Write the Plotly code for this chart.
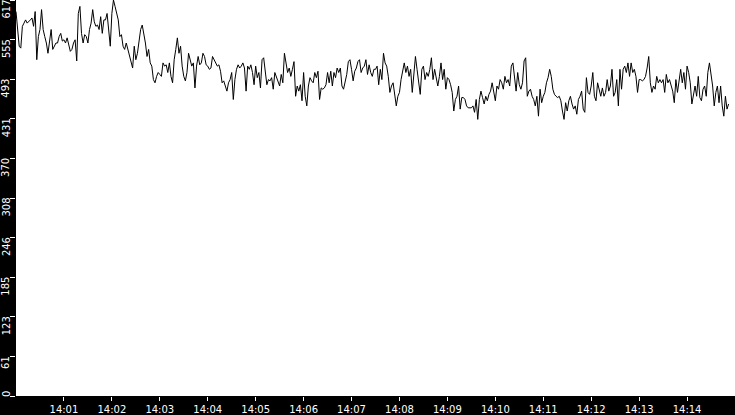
import plotly.graph_objects as go
import pandas as pd

# samples every 2 seconds starting 14:00:00
start_time = "2024-01-01 14:00:00"
sample_seconds = 2

values = [
    # 14:00:00 - 14:02:30
    599, 565, 545, 542, 576, 581, 586, 581, 583, 586, 589, 576, 599, 524, 560,
    571, 602, 571, 560, 550, 534, 555, 571, 540, 545, 550, 550, 560, 565, 553,
    555, 550, 558, 547, 537, 540, 550, 555, 522, 596, 607, 565, 550, 563, 560,
    550, 571, 581, 602, 583, 576, 578, 571, 591, 565, 586, 586, 596, 565, 545,
    596, 617, 607, 596, 586, 560, 563, 545, 540, 550, 540, 529, 519, 511, 545,
    # 14:02:30 - 14:05:00
    524, 534, 555, 571, 578, 565, 550, 529, 540, 519, 514, 493, 488, 498, 504,
    501, 498, 519, 514, 516, 504, 519, 498, 488, 524, 540, 558, 534, 545, 514,
    498, 491, 504, 534, 524, 514, 519, 480, 514, 529, 516, 519, 534, 529, 516,
    514, 509, 511, 529, 524, 519, 514, 516, 506, 488, 491, 483, 475, 488, 493,
    504, 462, 493, 509, 516, 511, 514, 519, 511, 475, 514, 509, 516, 504, 485,
    # 14:05:00 - 14:07:30
    514, 496, 504, 480, 524, 527, 509, 485, 493, 491, 496, 478, 504, 496, 488,
    483, 501, 488, 534, 519, 504, 511, 498, 509, 521, 467, 483, 475, 485, 460,
    504, 467, 452, 483, 496, 491, 488, 504, 496, 506, 462, 480, 478, 480, 485,
    504, 488, 506, 483, 504, 496, 511, 504, 511, 483, 478, 488, 501, 521, 524,
    509, 491, 506, 511, 521, 524, 504, 511, 514, 524, 501, 516, 504, 498, 509,
    # 14:07:30 - 14:10:00
    509, 514, 485, 509, 493, 534, 519, 514, 498, 473, 483, 488, 467, 452, 467,
    473, 493, 504, 519, 504, 514, 498, 509, 473, 504, 529, 509, 488, 470, 509,
    514, 493, 504, 498, 509, 527, 493, 509, 498, 483, 498, 519, 493, 509, 478,
    496, 493, 485, 473, 444, 462, 467, 483, 447, 465, 465, 462, 452, 449, 449,
    449, 452, 442, 462, 431, 462, 475, 465, 455, 467, 460, 470, 475, 488, 475,
    # 14:10:00 - 14:12:30
    460, 483, 478, 493, 488, 478, 498, 488, 493, 483, 514, 519, 498, 475, 504,
    485, 478, 488, 522, 527, 467, 475, 478, 467, 462, 452, 467, 436, 478, 457,
    467, 473, 488, 496, 509, 498, 478, 470, 467, 465, 467, 460, 444, 431, 457,
    444, 460, 467, 455, 447, 452, 439, 462, 467, 475, 447, 442, 496, 473, 470,
    483, 504, 467, 460, 488, 478, 467, 480, 467, 473, 493, 475, 483, 509, 467,
    # 14:12:30 - 14:14:54
    473, 493, 452, 509, 478, 509, 514, 504, 519, 498, 519, 504, 509, 498, 473,
    493, 493, 491, 493, 498, 511, 529, 488, 473, 483, 478, 498, 488, 493, 488,
    493, 473, 501, 488, 493, 483, 475, 457, 493, 473, 488, 509, 488, 504, 478,
    514, 504, 488, 455, 473, 483, 467, 498, 465, 460, 478, 483, 467, 504, 519,
    504, 483, 452, 473, 483, 457, 483, 452, 436, 467, 447, 455,
]

y_max = 617
y_tick_vals = [y_max * i / 10 for i in range(11)]
y_tick_text = ["0", "61", "123", "185", "246", "308", "370", "431", "493", "555", "617"]

x_range = ["2024-01-01 14:00:00", "2024-01-01 14:15:00"]
x_tick_vals = pd.date_range("2024-01-01 14:01:00", "2024-01-01 14:14:00", freq="1min")

times = pd.date_range(start_time, periods=len(values), freq=f"{sample_seconds}s")

fig = go.Figure()

fig.add_trace(go.Scatter(
    x=times,
    y=values,
    mode="lines",
    line=dict(color="#000000", width=1),
    hoverinfo="skip",
    showlegend=False,
))

# y labels sit below their tick (rotated), like the original
for val, txt in zip(y_tick_vals, y_tick_text):
    at_zero = val == 0
    fig.add_annotation(
        x=0, xref="paper", y=val, yref="y",
        text=txt, textangle=-90, showarrow=False,
        xanchor="center", yanchor="bottom" if at_zero else "top",
        xshift=-10, yshift=-3 if at_zero else 2,
        font=dict(color="#ffffff", size=10, family="DejaVu Sans"),
    )

fig.update_layout(
    width=735,
    height=415,
    margin=dict(l=16, r=0, t=0, b=16),
    paper_bgcolor="#000000",
    plot_bgcolor="#ffffff",
    font=dict(family="DejaVu Sans", size=10, color="#ffffff"),
    xaxis=dict(
        range=x_range,
        tickvals=x_tick_vals,
        tickformat="%H:%M",
        ticks="outside",
        ticklen=4,
        tickcolor="#ffffff",
        showgrid=False,
        zeroline=False,
        showline=False,
        tickfont=dict(size=10, color="#ffffff"),
    ),
    yaxis=dict(
        range=[0, y_max],
        tickvals=y_tick_vals,
        showticklabels=False,
        ticks="outside",
        ticklen=5,
        tickcolor="#ffffff",
        showgrid=False,
        zeroline=False,
        showline=False,
    ),
)

# page margin would push the figure off the window
fig.write_html(
    "out.html",
    config={"displayModeBar": False},
    post_script="document.body.style.margin = '0';",
)
